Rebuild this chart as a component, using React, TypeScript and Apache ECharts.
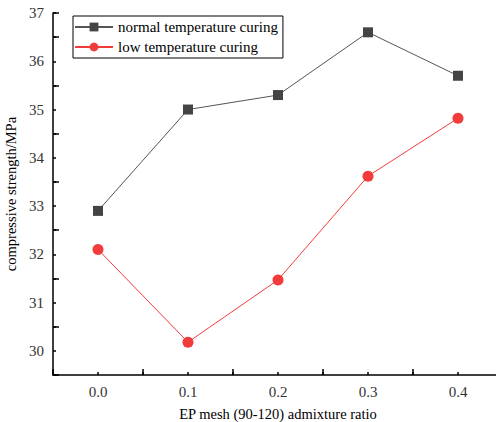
import React, { useEffect, useRef } from "react";
import * as echarts from "echarts";

const ratios = [0.0, 0.1, 0.2, 0.3, 0.4];
const normalCuring = [32.9, 35.0, 35.3, 36.6, 35.7];
const lowCuring = [32.1, 30.18, 31.47, 33.62, 34.82];
const seriesNames = ["normal temperature curing", "low temperature curing"];
const xTitle = "EP mesh (90-120) admixture ratio";
const yTitle = "compressive strength/MPa";

const serif = "'Liberation Serif', 'Times New Roman', serif";

export default function App() {
  const ref = useRef<HTMLDivElement>(null);
  useEffect(() => {
    if (!ref.current) return;
    const chart = echarts.init(ref.current, null, { renderer: "svg" });
    const isMultiple = (v: number, step: number) => Math.abs(Math.round(v / step) * step - v) < 1e-6;
    const tickStyle = { color: "#000", width: 1.5 };
    chart.setOption({
      animation: false,
      backgroundColor: "#ffffff",
      grid: { left: 53, top: 13, right: 7, bottom: 47, containLabel: false, outerBoundsMode: "none" },
      legend: {
        left: 73,
        top: 16,
        orient: "vertical",
        itemGap: 2,
        itemWidth: 38,
        itemHeight: 11,
        padding: [2, 5, 2, 1],
        borderColor: "#000",
        borderWidth: 1,
        borderRadius: 0,
        backgroundColor: "#fff",
        textStyle: { fontFamily: serif, fontSize: 15, color: "#000", lineHeight: 18 },
        data: seriesNames,
      },
      xAxis: [
        {
          type: "value",
          min: -0.05,
          max: 0.45,
          interval: 0.05,
          position: "bottom",
          axisLine: { show: true, onZero: false, lineStyle: { color: "#000", width: 1.5 } },
          axisTick: { show: true, inside: true, length: 3, lineStyle: tickStyle },
          splitLine: { show: false },
          axisLabel: {
            margin: 9,
            fontFamily: serif,
            fontSize: 15,
            color: "#333",
            formatter: (v: number) => (v >= -1e-6 && v <= 0.4 + 1e-6 && isMultiple(v, 0.1) ? v.toFixed(1) : ""),
          },
          name: xTitle,
          nameLocation: "middle",
          nameGap: 31,
          nameTextStyle: { fontFamily: serif, fontSize: 14.5, color: "#000" },
        },
        {
          type: "value",
          min: -0.05,
          max: 0.45,
          interval: 0.1,
          position: "bottom",
          axisLine: { show: false, onZero: false },
          axisTick: { show: true, inside: true, length: 6, lineStyle: tickStyle },
          splitLine: { show: false },
          axisLabel: { show: false },
        },
      ],
      yAxis: [
        {
          type: "value",
          min: 29.5,
          max: 37,
          interval: 0.5,
          position: "left",
          axisLine: { show: true, onZero: false, lineStyle: { color: "#000", width: 1.5 } },
          axisTick: { show: true, inside: true, length: 3, lineStyle: tickStyle },
          splitLine: { show: false },
          axisLabel: {
            margin: 9,
            fontFamily: serif,
            fontSize: 15,
            color: "#333",
            formatter: (v: number) => (v >= 30 && isMultiple(v, 1) ? String(Math.round(v)) : ""),
          },
          name: yTitle,
          nameLocation: "middle",
          nameGap: 32,
          nameTextStyle: { fontFamily: serif, fontSize: 14.5, color: "#000" },
        },
        {
          type: "value",
          min: 29.5,
          max: 37,
          interval: 1,
          position: "left",
          axisLine: { show: false, onZero: false },
          axisTick: { show: true, inside: true, length: 6, lineStyle: tickStyle },
          splitLine: { show: false },
          axisLabel: { show: false },
        },
      ],
      series: [
        {
          name: seriesNames[0],
          type: "line",
          data: ratios.map((x, i) => [x, normalCuring[i]]),
          symbol: "rect",
          symbolSize: 10,
          itemStyle: { color: "#444444" },
          lineStyle: { color: "#555555", width: 1 },
        },
        {
          name: seriesNames[1],
          type: "line",
          data: ratios.map((x, i) => [x, lowCuring[i]]),
          symbol: "circle",
          symbolSize: 11,
          itemStyle: { color: "#f23c3c" },
          lineStyle: { color: "#f23c3c", width: 1 },
        },
      ],
    });
    return () => chart.dispose();
  }, []);
  return (
    <div style={{ position: "absolute", left: 0, top: 0, width: 496, height: 422, overflow: "hidden", background: "#fff" }}>
      <div ref={ref} style={{ width: 510, height: 422 }} />
    </div>
  );
}
